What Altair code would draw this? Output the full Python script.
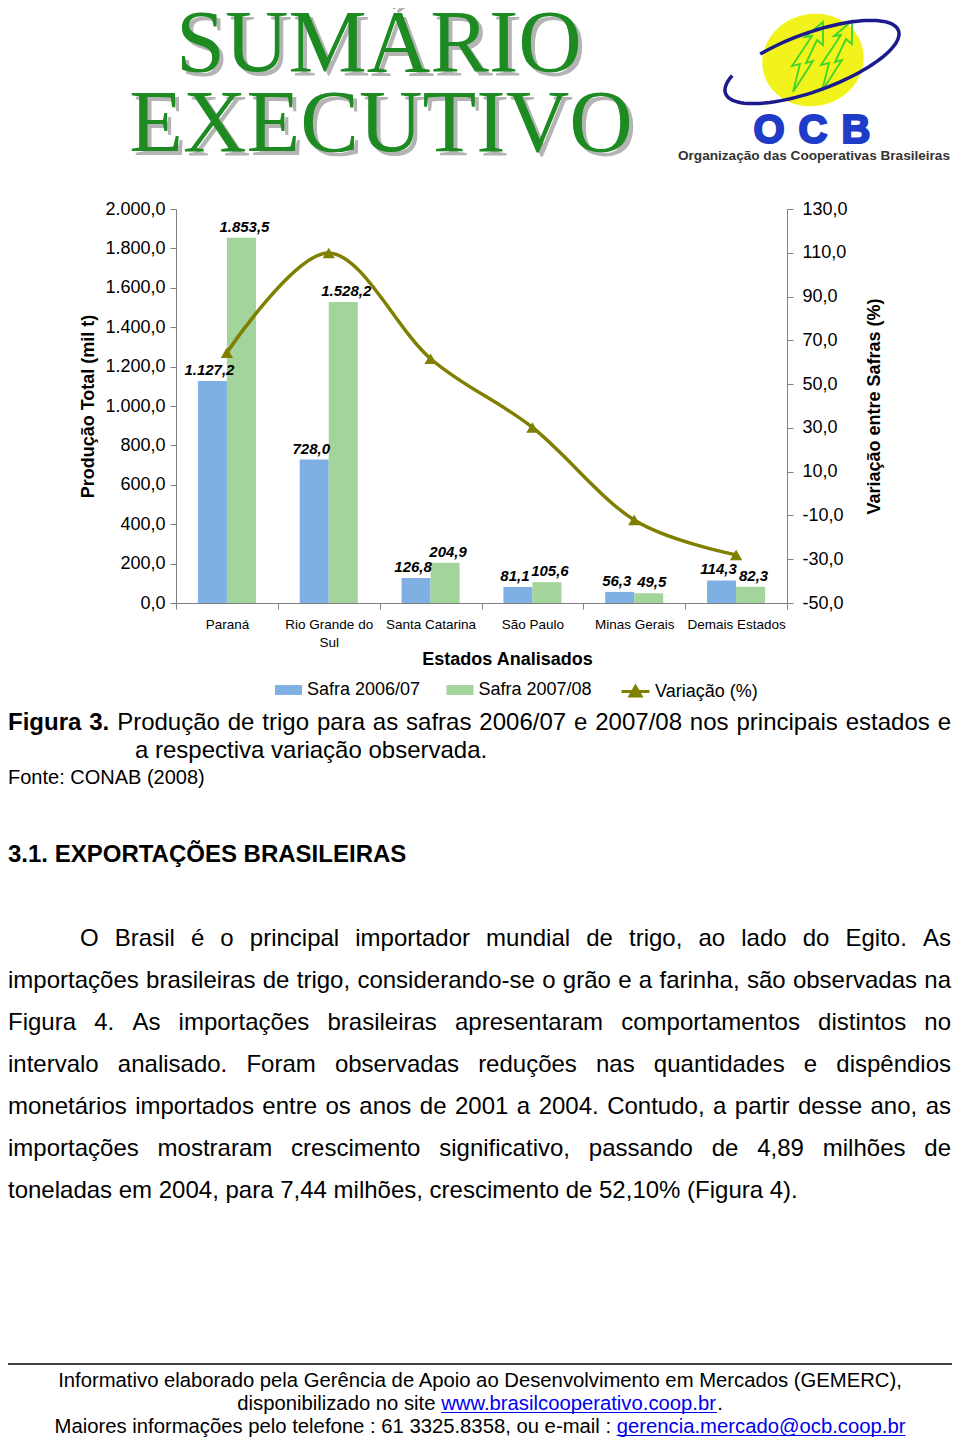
import math
import unicodedata
import altair as alt
import pandas as pd

# ------------------------------------------------------------------ data
estados = ["Paraná", "Rio Grande do Sul", "Santa Catarina", "São Paulo",
           "Minas Gerais", "Demais Estados"]
safra_2006_07 = [1127.2, 728.0, 126.8, 81.1, 56.3, 114.3]
safra_2007_08 = [1853.5, 1528.2, 204.9, 105.6, 49.5, 82.3]
variacao = [64.4, 109.9, 61.6, 30.2, -12.1, -28.0]
series = ["Safra 2006/07", "Safra 2007/08"]
serie_linha = "Variação (%)"
ticks_producao = [0, 200, 400, 600, 800, 1000, 1200, 1400, 1600, 1800, 2000]
ticks_variacao = [-50, -30, -10, 10, 30, 50, 70, 90, 110, 130]

paragrafo = [
    "O Brasil é o principal importador mundial de trigo, ao lado do Egito. As",
    "importações brasileiras de trigo, considerando-se o grão e a farinha, são observadas na",
    "Figura 4. As importações brasileiras apresentaram comportamentos distintos no",
    "intervalo analisado. Foram observadas reduções nas quantidades e dispêndios",
    "monetários importados entre os anos de 2001 a 2004. Contudo, a partir desse ano, as",
    "importações mostraram crescimento significativo, passando de 4,89 milhões de",
    "toneladas em 2004, para 7,44 milhões, crescimento de 52,10% (Figura 4).",
]

bars_df = pd.DataFrame({
    "estado": estados * 2,
    "serie": [series[0]] * len(estados) + [series[1]] * len(estados),
    "valor": safra_2006_07 + safra_2007_08,
})
line_df = pd.DataFrame({"estado": estados, "variacao": variacao,
                        "linha": [serie_linha] * len(estados)})

# ------------------------------------------------------------------ style
SANS = "Liberation Sans"
SERIF = "Liberation Serif"
BLUE = "#7fb0e3"
GREEN = "#a3d49c"
OLIVE = "#7f7f00"
AXIS_GRAY = "#808080"
LOC = ("replace(replace(replace(replace(format(datum.value, ',.1f'), ',', '#'), "
       "'.', ','), '#', '.'), '\u2212', '-')")
LOC_V = LOC.replace("datum.value", "datum.valor")

# page coordinates -> plot coordinates (plot origin at page 176, 209)
OX, OY = 176, 209
def P(x, y):
    return x - OX, y - OY

# Arial / Liberation Sans metrics (per 1000 em) for text layout
_up = "ABCDEFGHIJKLMNOPQRSTUVWXYZ"
_lo = "abcdefghijklmnopqrstuvwxyz"
AR = dict(zip(_up, [667, 667, 722, 722, 667, 611, 778, 722, 278, 500, 667, 556, 833,
                    722, 778, 667, 778, 722, 667, 611, 722, 667, 944, 667, 667, 611]))
AR.update(zip(_lo, [556, 556, 500, 556, 556, 278, 556, 556, 222, 222, 500, 222, 833,
                    556, 556, 556, 556, 333, 500, 278, 556, 500, 722, 500, 500, 500]))
AB = dict(zip(_up, [722, 722, 722, 722, 667, 611, 778, 722, 278, 556, 722, 611, 833,
                    722, 778, 667, 778, 722, 667, 611, 722, 667, 944, 667, 667, 611]))
AB.update(zip(_lo, [556, 611, 556, 611, 556, 333, 611, 611, 278, 278, 556, 278, 889,
                    611, 611, 611, 611, 389, 556, 333, 611, 556, 778, 556, 556, 500]))
for d, colon, at in ((AR, 278, 1015), (AB, 333, 975)):
    d.update({c: 556 for c in "0123456789"})
    d.update({" ": 278, ".": 278, ",": 278, ";": colon, ":": colon, "-": 333,
              "(": 333, ")": 333, "/": 278, "%": 889, "@": at})


def tw(s, size, bold=False):
    tbl = AB if bold else AR
    w = 0
    for ch in s:
        c = ch if ch in tbl else unicodedata.normalize("NFD", ch)[0]
        w += tbl.get(c, 556)
    return w * size / 1000.0


ONE = alt.Data(values=[{"k": 0}])


def T(s, x, y, size, weight="normal", color="#000000", font=SANS, align="left",
      style="normal", stroke=None, sw=0):
    kw = dict(text=s, fontSize=size, fontWeight=weight, color=color, font=font,
              align=align, baseline="alphabetic", fontStyle=style)
    if stroke:
        kw.update(stroke=stroke, strokeWidth=sw)
    return alt.Chart(ONE).mark_text(**kw).encode(x=alt.value(x), y=alt.value(y))


def justify(words, x0, x1, y, size):
    """words: list of (text, bold)."""
    widths = [tw(w, size, b) for w, b in words]
    gap = (x1 - x0 - sum(widths)) / (len(words) - 1)
    gap = max(gap, size * 0.278)
    out, x = [], x0
    for (w, b), wd in zip(words, widths):
        out.append(T(w, x, y, size, weight="bold" if b else "normal"))
        x += wd + gap
    return out


def shape_path(pts, ox, oy, s, close=False):
    p = "M" + "L".join(f"{(x - ox) / s:.3f},{(y - oy) / s:.3f}" for x, y in pts)
    return p + ("Z" if close else "")


def ellipse_pts(cx, cy, rx, ry, rot, t0, t1, n=90):
    th = math.radians(rot)
    pts = []
    for i in range(n + 1):
        t = math.radians(t0 + (t1 - t0) * i / n)
        x = cx + rx * math.cos(t) * math.cos(th) - ry * math.sin(t) * math.sin(th)
        y = cy + rx * math.cos(t) * math.sin(th) + ry * math.sin(t) * math.cos(th)
        pts.append((x, y))
    return pts


def symbol(path, x, y, s, **kw):
    return alt.Chart(ONE).mark_point(shape=path, size=(2 * s) ** 2, opacity=1, **kw).encode(
        x=alt.value(x), y=alt.value(y))

# ------------------------------------------------------------------ chart
X = alt.X("estado:N", sort=estados,
          scale=alt.Scale(domain=estados, paddingInner=0, paddingOuter=0),
          title="Estados Analisados",
          axis=alt.Axis(labelAngle=0, labelFontSize=13.5, labelPadding=8, tickSize=6,
                        tickBand="extent", labelLineHeight=18, labelLimit=0,
                        labelExpr="datum.label == 'Rio Grande do Sul' ? ['Rio Grande do', 'Sul'] : datum.label",
                        titleFontSize=18, titleFontWeight="bold", titleX=331, titleY=47,
                        titleBaseline="top", titleAlign="center"))
XO = alt.XOffset("serie:N", sort=series,
                 scale=alt.Scale(domain=series, paddingInner=0, paddingOuter=0.755))
Y1 = alt.Y("valor:Q", scale=alt.Scale(domain=[0, 2000], nice=False),
           title="Produção Total (mil t)",
           axis=alt.Axis(values=ticks_producao, labelExpr=LOC, labelFontSize=18,
                         labelPadding=5, tickSize=6, titleFontSize=18,
                         titleFontWeight="bold", titlePadding=7))
Y2 = alt.Y("variacao:Q", scale=alt.Scale(domain=[-50, 130], nice=False, zero=False),
           title="Variação entre Safras (%)",
           axis=alt.Axis(orient="right", values=ticks_variacao, labelExpr=LOC,
                         labelFontSize=18, labelPadding=9, tickSize=6, titleFontSize=18,
                         titleFontWeight="bold", titlePadding=36, titleAngle=270))

bars = alt.Chart(bars_df).mark_bar().encode(
    x=X, xOffset=XO, y=Y1,
    color=alt.Color("serie:N", scale=alt.Scale(domain=series, range=[BLUE, GREEN]),
                    legend=alt.Legend(title=None, orient="none", legendX=103.5, legendY=472,
                                      direction="horizontal", symbolType="M-1.5,-0.55L1.5,-0.55L1.5,0.55L-1.5,0.55Z",
                                      symbolSize=324, labelOffset=9.5, columnPadding=25.5,
                                      labelFontSize=18, symbolStrokeWidth=0)),
)


def bar_labels(serie, dx):
    return alt.Chart(bars_df).transform_filter(alt.datum.serie == serie).transform_calculate(
        lbl=LOC_V).mark_text(
        font=SANS, fontSize=15, fontWeight="bold", fontStyle="italic", baseline="bottom",
        dy=-3, dx=dx, color="#000000").encode(x=X, xOffset=XO, y=Y1, text="lbl:N")


line = alt.Chart(line_df).mark_line(interpolate="cardinal", color=OLIVE,
                                    strokeWidth=3.5).encode(
    x=X, y=Y2,
    opacity=alt.Opacity("linha:N", scale=alt.Scale(domain=[serie_linha], range=[1]),
                        legend=alt.Legend(title=None, orient="none", legendX=449, legendY=472,
                                          symbolType="M-1.55,0L1.55,0M-0.6,0.5L0,-0.55L0.6,0.5Z",
                                          symbolSize=324, symbolFillColor=OLIVE,
                                          symbolStrokeColor=OLIVE, symbolStrokeWidth=3,
                                          symbolOpacity=1, labelOffset=9, labelFontSize=18)),
)
points = alt.Chart(line_df).mark_point(shape="triangle-up", filled=True, color=OLIVE,
                                       size=150, opacity=1).encode(x=X, y=Y2)

main = alt.layer(alt.layer(bars, bar_labels(series[0], -3), bar_labels(series[1], 3)),
                 alt.layer(line, points)).resolve_scale(y="independent")

# ------------------------------------------------------------------ page header
deco = []
for txt, cx, by in (("SUMÁRIO", 379, 71), ("EXECUTIVO", 381, 151)):
    x, y = P(cx, by)
    deco.append(T(txt, x + 4, y + 4, 88, color="#b4b4b4", font=SERIF, align="center"))
    deco.append(T(txt, x, y, 88, color="#1d8a22", font=SERIF, align="center"))

# OCB logo
ex, ey = P(813, 60)
deco.append(symbol(shape_path(ellipse_pts(813, 60, 51, 46, -15, 0, 360), 813, 60, 50, True),
                   ex, ey, 50, filled=True, color="#f2f21c"))
arrow1 = [(793, 92), (800, 64), (792, 66), (812, 36), (805, 37), (823, 22), (823, 45),
          (817, 40), (806, 63), (813, 61), (793, 92)]
arrow2 = [(x + 29, y - 1) for x, y in arrow1]
ap = shape_path(arrow1, 813, 60, 50) + shape_path(arrow2, 813, 60, 50)
deco.append(symbol(ap, ex, ey, 50, filled=False, color="#3fd42a", strokeWidth=1.8))
rx_, ry_ = P(812, 62)
ring = shape_path(ellipse_pts(812, 62, 92, 29, -20, 240, 570), 812, 62, 100)
deco.append(symbol(ring, rx_, ry_, 100, filled=False, color="#1b1b8e", strokeWidth=3.5))
for letter, cx in (("O", 769), ("C", 813), ("B", 856)):
    x, y = P(cx, 143)
    deco.append(T(letter, x, y, 40, weight="bold", color="#1e3cc8", align="center",
                  stroke="#1e3cc8", sw=2.2))
sub = "Organização das Cooperativas Brasileiras"
x, y = P(814, 160)
deco.append(T(sub, x, y, round(272 / tw(sub, 1, True), 1), weight="bold",
              color="#333333", align="center"))

# ------------------------------------------------------------------ caption & text
x0, _ = P(8, 0)
x1, _ = P(951, 0)
cap = [("Figura", True), ("3.", True)] + [(w, False) for w in
      "Produção de trigo para as safras 2006/07 e 2007/08 nos principais estados e".split()]
deco += justify(cap, x0, x1, P(0, 730)[1], 24)
x, y = P(135, 758)
deco.append(T("a respectiva variação observada.", x, y, 24))
x, y = P(8, 784)
deco.append(T("Fonte: CONAB (2008)", x, y, 20))
x, y = P(8, 862)
deco.append(T("3.1. EXPORTAÇÕES BRASILEIRAS", x, y, 24, weight="bold"))

for i, linha in enumerate(paragrafo):
    y = P(0, 946 + 42 * i)[1]
    start = P(80, 0)[0] if i == 0 else x0
    if i == len(paragrafo) - 1:
        deco.append(T(linha, start, y, 24))
    else:
        deco += justify([(w, False) for w in linha.split()], start, x1, y, 24)

# footer
fx0, fy = P(8, 1364)
fx1 = P(952, 0)[0]
deco.append(alt.Chart(ONE).mark_rule(color="#000000", strokeWidth=1.5).encode(
    x=alt.value(fx0), x2=alt.value(fx1), y=alt.value(fy)))
f1 = "Informativo elaborado pela Gerência de Apoio ao Desenvolvimento em Mercados (GEMERC),"
fsize = round(845 / tw(f1, 1), 2)
cxf = P(480, 0)[0]
deco.append(T(f1, cxf, P(0, 1387)[1], fsize, align="center"))
LINK = "#0000ee"
for segs, by in (([("disponibilizado no site ", False), ("www.brasilcooperativo.coop.br", True),
                   (".", False)], 1410),
                 ([("Maiores informações pelo telefone : 61 3325.8358, ou e-mail : ", False),
                   ("gerencia.mercado@ocb.coop.br", True)], 1433)):
    total = sum(tw(s, fsize) for s, _ in segs)
    x = cxf - total / 2
    y = P(0, by)[1]
    for s, link in segs:
        w = tw(s, fsize)
        deco.append(T(s, x, y, fsize, color=LINK if link else "#000000"))
        if link:
            deco.append(alt.Chart(ONE).mark_rule(color=LINK, strokeWidth=1).encode(
                x=alt.value(x), x2=alt.value(x + w), y=alt.value(y + 2.5)))
        x += w

chart = alt.layer(main, *deco).properties(
    width=611, height=394,
    autosize=alt.AutoSizeParams(type="none"),
    padding={"left": 168, "top": 201, "right": 165, "bottom": 838},
).configure_view(stroke=None).configure_axis(
    labelFont=SANS, titleFont=SANS, labelColor="#000000", titleColor="#000000",
    domainColor=AXIS_GRAY, tickColor=AXIS_GRAY, grid=False,
).configure_legend(labelFont=SANS, labelColor="#000000", padding=0)

chart.save("out.html", embed_options={"renderer": "svg", "actions": False})
